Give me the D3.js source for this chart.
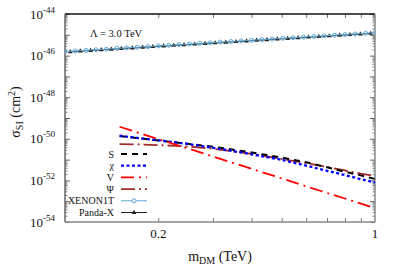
<!DOCTYPE html>
<html>
<head>
<meta charset="utf-8">
<script src="https://cdn.jsdelivr.net/npm/d3@7"></script>
<style>
  body { margin: 0; background: #fff; }
</style>
</head>
<body>
<script>
// dark matter masses (TeV) for the model curves
var massModel = [0.15, 0.17, 0.2, 0.25, 0.3, 0.4, 0.5, 0.6, 0.7, 0.8, 0.9, 1.0];
var sigmaS   = [1.35e-50, 1.1e-50, 8.3e-51, 5.7e-51, 4.2e-51, 2.2e-51, 1.26e-51, 7.4e-52, 4.3e-52, 2.6e-52, 1.74e-52, 1.17e-52];
var sigmaChi = [1.4e-50, 1.12e-50, 8.5e-51, 5.6e-51, 3.7e-51, 1.8e-51, 9.8e-52, 5.1e-52, 2.9e-52, 1.8e-52, 1.15e-52, 7.9e-53];
var sigmaV   = [3.8e-50, 2.1e-50, 9.7e-51, 3.4e-51, 1.4e-51, 3.6e-52, 1.25e-52, 5.2e-53, 2.5e-53, 1.35e-53, 7.6e-54, 4.7e-54];
var sigmaPsi = [5.6e-51, 5.4e-51, 5.0e-51, 4.3e-51, 3.3e-51, 1.9e-51, 1.07e-51, 6.8e-52, 4.4e-52, 3.0e-52, 2.1e-52, 1.6e-52];

// experimental limits (units of 1e-46 cm^2)
var massXenon = [0.100, 0.108, 0.117, 0.126, 0.136, 0.147, 0.158, 0.171, 0.185, 0.2, 0.216, 0.233, 0.252, 0.272, 0.294, 0.317,
                 0.343, 0.37, 0.4, 0.432, 0.466, 0.504, 0.544, 0.588, 0.635, 0.685, 0.74, 0.8, 0.864, 0.933, 1.0];
var xenon = [1.55, 1.67, 1.78, 1.92, 2.04, 2.21, 2.34, 2.53, 2.70, 2.92, 3.11, 3.35, 3.58, 3.86, 4.12, 4.44,
             4.74, 5.10, 5.46, 5.88, 6.27, 6.76, 7.22, 7.78, 8.31, 8.94, 9.55, 10.3, 11.0, 11.85, 12.6];
var massPanda = [0.104, 0.112, 0.121, 0.131, 0.141, 0.152, 0.165, 0.178, 0.192, 0.208, 0.224, 0.242, 0.262, 0.283, 0.305,
                 0.33, 0.356, 0.385, 0.415, 0.448, 0.484, 0.523, 0.565, 0.61, 0.659, 0.712, 0.769, 0.83, 0.897, 0.968];
var panda = [1.52, 1.64, 1.76, 1.88, 2.02, 2.16, 2.31, 2.48, 2.67, 2.86, 3.07, 3.29, 3.53, 3.79, 4.06,
             4.36, 4.67, 5.01, 5.38, 5.77, 6.19, 6.64, 7.12, 7.64, 8.19, 8.78, 9.42, 10.11, 10.84, 11.59];

var yTickExp = [-44, -46, -48, -50, -52, -54];
var xTickLabels = [0.2, 1];
var legendNames = ["S", "\u03c7", "V", "\u03a8", "XENON1T", "Panda-X"];

var width = 399, height = 279;
var margin = {top: 14, right: 24, bottom: 57, left: 65};

var svg = d3.select("body").append("svg").attr("width", width).attr("height", height)
  .attr("font-family", "'Liberation Serif', 'Times New Roman', Times, serif");

var x = d3.scaleLog().domain([0.1, 1]).range([margin.left, width - margin.right]);
var y = d3.scaleLog().domain([1e-54, 1e-44]).range([height - margin.bottom, margin.top]);

// minor ticks
var xMinor = [0.2, 0.3, 0.4, 0.5, 0.6, 0.7, 0.8, 0.9];
var yMinor = [];
for (var e = -54; e < -44; e++) {
  for (var m = 2; m <= 9; m++) yMinor.push(m * Math.pow(10, e));
}
var yMajor = d3.range(-54, -43).map(function(e) { return Math.pow(10, e); });

var x0 = x.range()[0], x1 = x.range()[1], y0 = y.range()[0], y1 = y.range()[1];

function bare(g, col) {
  g.select(".domain").remove();
  g.selectAll("text").remove();
  g.selectAll("line").attr("stroke", col);
}

svg.append("g").attr("transform", "translate(0," + y0 + ")")
  .call(d3.axisBottom(x).tickValues(xMinor).tickSize(-4))
  .call(bare, "#777");
svg.append("g").attr("transform", "translate(0," + y1 + ")")
  .call(d3.axisTop(x).tickValues(xMinor).tickSize(-4))
  .call(bare, "#777");
[[d3.axisLeft, x0], [d3.axisRight, x1]].forEach(function(a) {
  svg.append("g").attr("transform", "translate(" + a[1] + ",0)")
    .call(a[0](y).tickValues(yMajor).tickSize(-5))
    .call(bare, "#666");
  svg.append("g").attr("transform", "translate(" + a[1] + ",0)")
    .call(a[0](y).tickValues(yMinor).tickSize(-2.5))
    .call(bare, "#888");
});

// frame
svg.append("line").attr("x1", x0).attr("x2", x1).attr("y1", y1).attr("y2", y1).attr("stroke", "#111").attr("stroke-width", 1.5);
svg.append("line").attr("x1", x0).attr("x2", x1).attr("y1", y0).attr("y2", y0).attr("stroke", "#888").attr("stroke-width", 1.5);
svg.append("line").attr("x1", x0).attr("x2", x0).attr("y1", y0).attr("y2", y1).attr("stroke", "#666").attr("stroke-width", 1.5);
svg.append("line").attr("x1", x1).attr("x2", x1).attr("y1", y0).attr("y2", y1).attr("stroke", "#888").attr("stroke-width", 1.5);

// y tick labels 10^n
yTickExp.forEach(function(e) {
  var t = svg.append("text").attr("x", 30).attr("y", y(Math.pow(10, e)) + 4.5).attr("font-size", 13).attr("fill", "#111");
  t.append("tspan").text("10");
  t.append("tspan").attr("dy", -6).attr("font-size", 9).text(String(e));
});
// x tick labels
xTickLabels.forEach(function(v) {
  svg.append("text").attr("x", x(v)).attr("y", y0 + 16).attr("text-anchor", "middle").attr("font-size", 13).attr("fill", "#111").text(v);
});

// axis titles
var xl = svg.append("text").attr("x", 220).attr("y", 261).attr("text-anchor", "middle").attr("font-size", 14).attr("fill", "#111");
xl.append("tspan").text("m");
xl.append("tspan").attr("dy", 3).attr("font-size", 10).text("DM");
xl.append("tspan").attr("dy", -3).text(" (TeV)");

var yl = svg.append("text").attr("transform", "translate(20,112) rotate(-90)").attr("text-anchor", "middle").attr("font-size", 14).attr("fill", "#111");
yl.append("tspan").text("\u03c3");
yl.append("tspan").attr("dy", 3).attr("font-size", 10).text("SI");
yl.append("tspan").attr("dy", -3).text(" (cm");
yl.append("tspan").attr("dy", -5).attr("font-size", 10).text("2");
yl.append("tspan").attr("dy", 5).text(")");

svg.append("text").attr("x", 90).attr("y", 37).attr("font-size", 10.5).attr("fill", "#111").text("\u039b = 3.0 TeV");

svg.append("clipPath").attr("id", "clip").append("rect")
  .attr("x", x0).attr("y", y1).attr("width", x1 - x0).attr("height", y0 - y1);
var plot = svg.append("g").attr("clip-path", "url(#clip)");

var line = d3.line().x(function(d) { return x(d[0]); }).y(function(d) { return y(d[1]); });
function pairs(ms, vs, k) { return ms.map(function(m, i) { return [m, vs[i] * (k || 1)]; }); }

var styles = [
  {data: pairs(massModel, sigmaS), color: "#000", dash: "6,5", w: 2},
  {data: pairs(massModel, sigmaChi), color: "#0000ff", dash: "3,2.5", w: 2.3},
  {data: pairs(massModel, sigmaV), color: "#ff0000", dash: "13,5,2,5", w: 1.8},
  {data: pairs(massModel, sigmaPsi), color: "#a52a2a", dash: "14,4,2,4", w: 1.8}
];

var xenonData = pairs(massXenon, xenon, 1e-46);
var pandaData = pairs(massPanda, panda, 1e-46);
var tri = d3.symbol().type(d3.symbolTriangle).size(10);

plot.append("path").datum(pandaData).attr("d", line).attr("fill", "none").attr("stroke", "#222").attr("stroke-width", 1);
plot.selectAll(".pt").data(pandaData).enter().append("path").attr("d", tri)
  .attr("transform", function(d) { return "translate(" + x(d[0]) + "," + y(d[1]) + ")"; }).attr("fill", "#222");
plot.append("path").datum(xenonData).attr("d", line).attr("fill", "none").attr("stroke", "#5fa8d3").attr("stroke-width", 1);
plot.selectAll(".xc").data(xenonData).enter().append("circle")
  .attr("cx", function(d) { return x(d[0]); }).attr("cy", function(d) { return y(d[1]); })
  .attr("r", 2).attr("fill", "none").attr("stroke", "#5fa8d3").attr("stroke-width", 1);

[3, 0, 1, 2].forEach(function(i) {
  var s = styles[i];
  plot.append("path").datum(s.data).attr("d", line).attr("fill", "none")
    .attr("stroke", s.color).attr("stroke-width", s.w).attr("stroke-dasharray", s.dash);
});

// legend
var leg = svg.append("g");
legendNames.forEach(function(name, i) {
  var ly = 154 + i * 11.7;
  leg.append("text").attr("x", 114).attr("y", ly + 3.5).attr("text-anchor", "end").attr("font-size", 10).attr("fill", "#111").text(name);
  if (i < 4) {
    var s = styles[i];
    leg.append("line").attr("x1", 121).attr("x2", 147).attr("y1", ly).attr("y2", ly)
      .attr("stroke", s.color).attr("stroke-width", s.w).attr("stroke-dasharray", s.dash);
  } else if (i === 4) {
    leg.append("line").attr("x1", 121).attr("x2", 147).attr("y1", ly).attr("y2", ly).attr("stroke", "#5fa8d3");
    leg.append("circle").attr("cx", 134).attr("cy", ly).attr("r", 2).attr("fill", "#fff").attr("stroke", "#5fa8d3");
  } else {
    leg.append("line").attr("x1", 121).attr("x2", 147).attr("y1", ly).attr("y2", ly).attr("stroke", "#222");
    leg.append("path").attr("d", tri).attr("transform", "translate(134," + ly + ")").attr("fill", "#222");
  }
});
</script>
</body>
</html>
